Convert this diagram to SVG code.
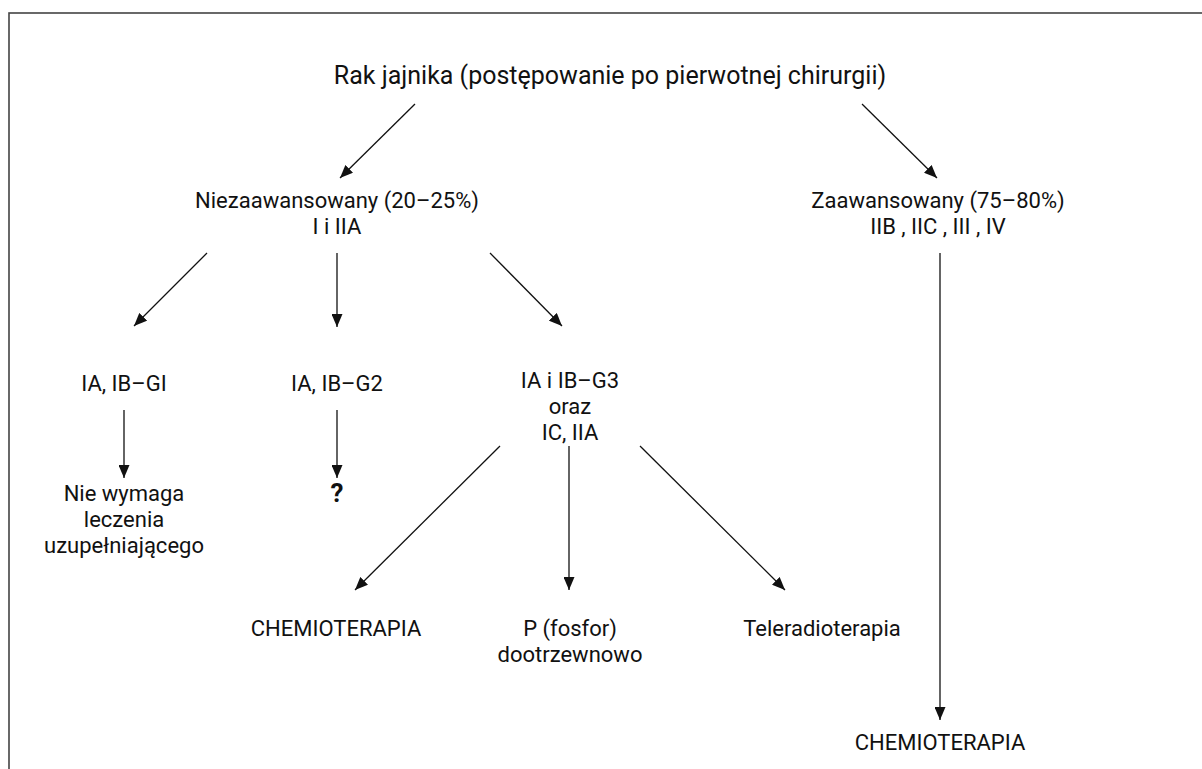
<svg xmlns="http://www.w3.org/2000/svg" width="1202" height="769" viewBox="0 0 1202 769">
<style>
text{font-family:Roboto,"Liberation Sans",sans-serif;fill:#111;text-anchor:middle}
.t{font-size:25px}
.n{font-size:22px}
.q{font-size:26px;font-weight:bold}
.c line{stroke:#111;stroke-width:1.3;marker-end:url(#ah)}
</style>
<defs>
<marker id="ah" viewBox="0 0 13 11" refX="13" refY="5.5" markerWidth="13" markerHeight="11" markerUnits="userSpaceOnUse" orient="auto">
<path d="M0,0 L13,5.5 L0,11 Z" fill="#111"/>
</marker>
</defs>
<rect width="1202" height="769" fill="#fff"/>
<rect x="9" y="13" width="1200" height="800" fill="none" stroke="#444" stroke-width="1.6"/>
<g class="c" id="connectors">
<line x1="415" y1="104" x2="340" y2="178"/>
<line x1="862" y1="104" x2="937" y2="178"/>
<line x1="207" y1="253" x2="134" y2="326"/>
<line x1="337" y1="253" x2="337" y2="327"/>
<line x1="490" y1="253" x2="562" y2="326"/>
<line x1="940" y1="253" x2="940" y2="720"/>
<line x1="124" y1="410" x2="124" y2="478"/>
<line x1="337" y1="410" x2="337" y2="478"/>
<line x1="500" y1="446" x2="355" y2="590"/>
<line x1="569" y1="446" x2="569" y2="590"/>
<line x1="640" y1="446" x2="785" y2="590"/>
</g>
<g id="root"><text class="t" x="610" y="84">Rak jajnika (postępowanie po pierwotnej chirurgii)</text></g>
<g id="early"><text class="n" x="337" y="208">Niezaawansowany (20–25%)<tspan x="337" dy="26">I i IIA</tspan></text></g>
<g id="advanced"><text class="n" x="938" y="208">Zaawansowany (75–80%)<tspan x="938" dy="26">IIB , IIC , III , IV</tspan></text></g>
<g id="g1"><text class="n" x="124" y="391">IA, IB–GI</text></g>
<g id="g2"><text class="n" x="337" y="391">IA, IB–G2</text></g>
<g id="g3"><text class="n" x="570" y="388">IA i IB–G3<tspan x="570" dy="26">oraz</tspan><tspan x="570" dy="26">IC, IIA</tspan></text></g>
<g id="none"><text class="n" x="124" y="501">Nie wymaga<tspan x="124" dy="26">leczenia</tspan><tspan x="124" dy="26">uzupełniającego</tspan></text></g>
<g id="unknown"><text class="q" x="337" y="502">?</text></g>
<g id="chemo1"><text class="n" x="336" y="636">CHEMIOTERAPIA</text></g>
<g id="phos"><text class="n" x="570" y="636">P (fosfor)<tspan x="570" dy="26">dootrzewnowo</tspan></text></g>
<g id="tele"><text class="n" x="822" y="636">Teleradioterapia</text></g>
<g id="chemo2"><text class="n" x="940" y="750">CHEMIOTERAPIA</text></g>
</svg>
